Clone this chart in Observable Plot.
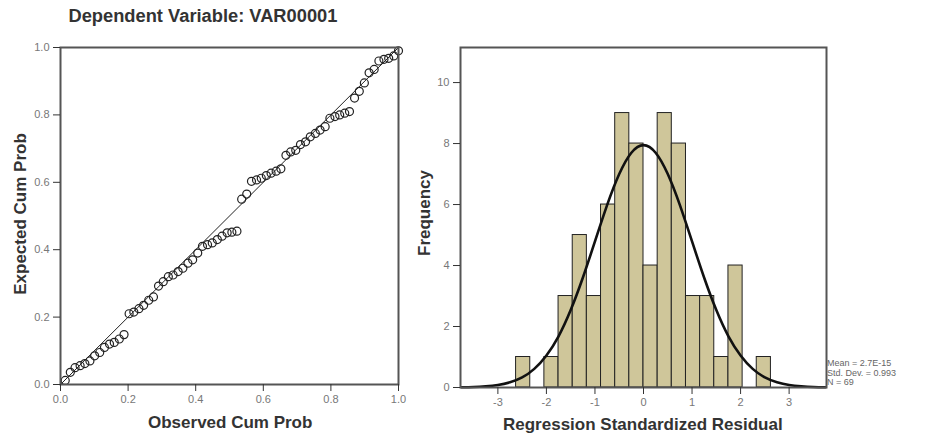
<!DOCTYPE html>
<html>
<head>
<meta charset="utf-8">
<script src="https://cdn.jsdelivr.net/npm/d3@7"></script>
<script src="https://cdn.jsdelivr.net/npm/@observablehq/plot@0.6"></script>
<style>
  html, body { margin: 0; padding: 0; background: #fff; }
  #wrap { position: relative; width: 925px; height: 436px; overflow: hidden; font-family: Arial, "Liberation Sans", sans-serif; }
  .abs { position: absolute; }
  .lbl { font-weight: bold; color: #333; white-space: nowrap; }
  .stat { font-size: 9px; color: #666; line-height: 9.5px; white-space: nowrap; }
</style>
</head>
<body>
<div id="wrap"></div>
<script>
// ---- Left panel: Normal P-P plot ----
const ppTitle = "Dependent Variable: VAR00001";
const ppXLabel = "Observed Cum Prob";
const ppYLabel = "Expected Cum Prob";
const ppTicks = [0, 0.2, 0.4, 0.6, 0.8, 1.0];
const refLine = [0, 1];
const observedCum = [
  0.014, 0.029, 0.043, 0.058, 0.072, 0.087, 0.101, 0.116, 0.130, 0.145,
  0.159, 0.174, 0.188, 0.203, 0.217, 0.232, 0.246, 0.261, 0.275, 0.290,
  0.304, 0.319, 0.333, 0.348, 0.362, 0.377, 0.391, 0.406, 0.420, 0.435,
  0.449, 0.464, 0.478, 0.493, 0.507, 0.522, 0.536, 0.551, 0.565, 0.580,
  0.594, 0.609, 0.623, 0.638, 0.652, 0.667, 0.681, 0.696, 0.710, 0.725,
  0.739, 0.754, 0.768, 0.783, 0.797, 0.812, 0.826, 0.841, 0.855, 0.870,
  0.884, 0.899, 0.913, 0.928, 0.942, 0.957, 0.971, 0.986, 1.000
];
const expectedCum = [
  0.012, 0.036, 0.050, 0.056, 0.062, 0.070, 0.085, 0.095, 0.110, 0.120,
  0.125, 0.135, 0.148, 0.210, 0.215, 0.225, 0.235, 0.250, 0.260, 0.292,
  0.305, 0.320, 0.325, 0.335, 0.345, 0.360, 0.370, 0.390, 0.410, 0.415,
  0.420, 0.430, 0.440, 0.450, 0.452, 0.455, 0.550, 0.565, 0.603, 0.607,
  0.612, 0.620, 0.627, 0.633, 0.640, 0.680, 0.690, 0.695, 0.712, 0.720,
  0.735, 0.745, 0.755, 0.765, 0.790, 0.795, 0.800, 0.805, 0.810, 0.850,
  0.870, 0.895, 0.925, 0.935, 0.960, 0.965, 0.968, 0.975, 0.990
];

// ---- Right panel: histogram of residuals ----
const histXLabel = "Regression Standardized Residual";
const histYLabel = "Frequency";
const histXTicks = [-3, -2, -1, 0, 1, 2, 3];
const histYTicks = [0, 2, 4, 6, 8, 10];
const binEdges = [-2.625, -2.333, -2.042, -1.750, -1.458, -1.167, -0.875, -0.583, -0.292, 0,
                  0.292, 0.583, 0.875, 1.167, 1.458, 1.750, 2.042, 2.333, 2.625];
const binCounts = [1, 0, 1, 3, 5, 3, 6, 9, 8, 4, 9, 8, 3, 3, 1, 4, 0, 1];
const curveX = [-3.75, -3.5, -3.25, -3, -2.75, -2.5, -2.25, -2, -1.75, -1.5, -1.25, -1, -0.75, -0.5, -0.25, 0,
                0.25, 0.5, 0.75, 1, 1.25, 1.5, 1.75, 2, 2.25, 2.5, 2.75, 3, 3.25, 3.5, 3.75];
const curveY = [0.006, 0.016, 0.04, 0.083, 0.17, 0.33, 0.61, 1.05, 1.68, 2.54, 3.6, 4.79, 5.98, 7.0, 7.7, 7.95,
                7.7, 7.0, 5.98, 4.79, 3.6, 2.54, 1.68, 1.05, 0.61, 0.33, 0.17, 0.083, 0.04, 0.016, 0.006];
const statLines = ["Mean = 2.7E-15", "Std. Dev. = 0.993", "N = 69"];

const wrap = document.getElementById("wrap");
const fmt1 = d3.format(".1f");
const fmtInt = d => String(d);

const ppData = observedCum.map((x, i) => ({x, y: expectedCum[i]}));
const lineData = refLine.map(v => ({x: v, y: v}));

const left = Plot.plot({
  width: 410, height: 436,
  marginLeft: 60, marginRight: 12, marginTop: 47, marginBottom: 52,
  style: {fontFamily: "Arial, 'Liberation Sans', sans-serif", fontSize: "11px", background: "transparent", overflow: "visible"},
  x: {domain: [0, 1], label: null},
  y: {domain: [0, 1], label: null},
  marks: [
    Plot.line(lineData, {x: "x", y: "y", stroke: "#222", strokeWidth: 1}),
    Plot.dot(ppData, {x: "x", y: "y", r: 4, stroke: "#222", strokeWidth: 1.2, fill: "none"}),
    Plot.frame({stroke: "#555", strokeWidth: 2}),
    Plot.axisX({ticks: ppTicks, tickFormat: fmt1, tickSize: 7, tickPadding: 4, stroke: "#333", fill: "#777", label: null}),
    Plot.axisY({ticks: ppTicks, tickFormat: fmt1, tickSize: 7, tickPadding: 4, stroke: "#333", fill: "#777", label: null})
  ]
});
left.classList.add("abs");
left.style.left = "0px"; left.style.top = "0px";
wrap.appendChild(left);

const bars = binCounts.map((c, i) => ({x1: binEdges[i], x2: binEdges[i + 1], y: c})).filter(d => d.y > 0);
const curve = curveX.map((x, i) => ({x, y: curveY[i]}));

const right = Plot.plot({
  width: 515, height: 436,
  marginLeft: 50, marginRight: 99, marginTop: 47, marginBottom: 49,
  style: {fontFamily: "Arial, 'Liberation Sans', sans-serif", fontSize: "11px", background: "transparent", overflow: "visible"},
  x: {domain: [-3.77, 3.77], label: null},
  y: {domain: [0, 11.15], label: null},
  marks: [
    Plot.rectY(bars, {x1: "x1", x2: "x2", y: "y", fill: "#cfc69a", stroke: "#222", strokeWidth: 1, insetLeft: 0, insetRight: 0}),
    Plot.line(curve, {x: "x", y: "y", stroke: "#111", strokeWidth: 2.6, curve: "natural"}),
    Plot.frame({stroke: "#555", strokeWidth: 2}),
    Plot.axisX({ticks: histXTicks, tickFormat: fmtInt, tickSize: 7, tickPadding: 4, stroke: "#333", fill: "#777", label: null}),
    Plot.axisY({ticks: histYTicks, tickFormat: fmtInt, tickSize: 7, tickPadding: 4, stroke: "#333", fill: "#777", label: null})
  ]
});
right.classList.add("abs");
right.style.left = "410px"; right.style.top = "0px";
wrap.appendChild(right);

function addText(text, opts) {
  const el = document.createElement("div");
  el.className = "abs " + (opts.cls || "lbl");
  el.textContent = text;
  if (opts.size) el.style.fontSize = opts.size;
  wrap.appendChild(el);
  const w = el.offsetWidth, h = el.offsetHeight;
  if (opts.rotate) {
    el.style.left = (opts.cx - w / 2) + "px";
    el.style.top = (opts.cy - h / 2) + "px";
    el.style.transform = "rotate(-90deg)";
  } else if (opts.cx !== undefined) {
    el.style.left = (opts.cx - w / 2) + "px";
    el.style.top = (opts.cy - h / 2) + "px";
  } else {
    el.style.left = opts.x + "px";
    el.style.top = (opts.cy - h / 2) + "px";
  }
  return el;
}

addText(ppTitle, {cx: 203, cy: 16, size: "18.3px"});
addText(ppXLabel, {cx: 230, cy: 423, size: "17px"});
addText(ppYLabel, {cx: 21, cy: 214, size: "17px", rotate: true});
addText(histXLabel, {cx: 643, cy: 425, size: "17px"});
addText(histYLabel, {cx: 425, cy: 213, size: "17px", rotate: true});
statLines.forEach((t, i) => addText(t, {cls: "stat", x: 827, cy: 364 + i * 9.5}));
</script>
</body>
</html>
